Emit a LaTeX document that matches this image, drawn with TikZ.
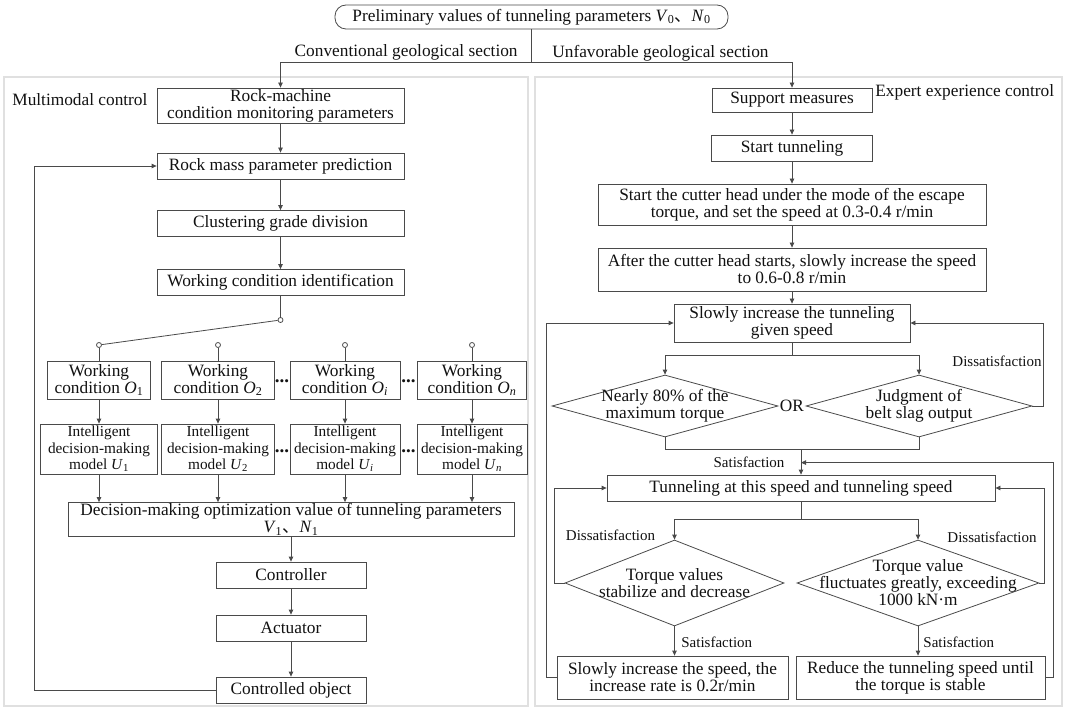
\documentclass[tikz,border=0pt]{standalone}
\usepackage{fontspec}
\setmainfont{Liberation Serif}
\newfontfamily\cjk{Noto Sans CJK SC}
\usetikzlibrary{arrows.meta, positioning, shapes.geometric, calc}
\definecolor{cline}{HTML}{4A4A4A}
\definecolor{cpanel}{HTML}{E0E0E0}
\definecolor{ctext}{HTML}{111111}
\newcommand{\vn}[2]{\textit{#1}\textsubscript{#2}}
\newcommand{\dun}{{\cjk 、}}
\tikzset{
  every picture/.style={line width=0.8pt, font=\fontsize{17.3}{17}\selectfont, text=ctext},
  box/.style={draw=cline, fill=white, rectangle, align=center, inner sep=0pt},
  smallbox/.style={box, font=\fontsize{15.3}{16.5}\selectfont},
  roundbox/.style={box, rounded corners=11pt},
  decide/.style={diamond, draw=cline, fill=white, inner sep=0pt},
  dtext/.style={align=center, inner sep=0pt},
  contact/.style={circle, draw=cline, fill=white, minimum size=5pt, inner sep=0pt},
  conn/.style={draw=cline},
  arrow/.style={conn, -{Triangle[length=5pt, width=4.5pt]}},
  lbl/.style={inner sep=0pt},
  dots/.style={inner sep=0pt, font=\fontsize{19}{19}\selectfont\bfseries},
  cond/.style={inner sep=0pt, font=\fontsize{15}{16}\selectfont},
  panel/.style={draw=cpanel, line width=1.5pt},
}

\begin{document}
\begin{tikzpicture}[x=1pt, y=-1pt]
  \useasboundingbox (0,0) rectangle (1065,708);
  % panels
  \draw[panel] (4,77) rectangle (528,706);
  \draw[panel] (535,77) rectangle (1062,706);
  \node[lbl, anchor=west] (mmc) at (12,100) {Multimodal control};
  \node[lbl, anchor=west] (eec) at (875,92) {Expert experience control};
  % start
  \node[roundbox, minimum width=393, minimum height=24] (pre) at (531.5,17) {Preliminary values of tunneling parameters \vn{V}{0}\dun\vn{N}{0}};
  \node[lbl, anchor=east] (conv) at (518,52) {Conventional geological section};
  \node[lbl, anchor=west] (unf) at (552,53) {Unfavorable geological section};
  % multimodal control
  \node[box, minimum width=247, minimum height=35] (rm) at (280.5,105.5) {Rock-machine\\condition monitoring parameters};
  \node[box, minimum width=247, minimum height=26] (rmp) at (280.5,166) {Rock mass parameter prediction};
  \node[box, minimum width=247, minimum height=26] (cgd) at (280.5,223.5) {Clustering grade division};
  \node[box, minimum width=247, minimum height=26] (wci) at (280.5,282.5) {Working condition identification};
  \draw[arrow] (rm) -- (rmp);
  \draw[arrow] (rmp) -- (cgd);
  \draw[arrow] (cgd) -- (wci);
  \node[contact] (c0) at (280.5,320) {};
  \draw[conn] (wci) -- (c0);
  \node[box, minimum width=446, minimum height=34] (dec) at (291,519.5) {Decision-making optimization value of tunneling parameters\\\vn{V}{1}\dun\vn{N}{1}};
  \foreach \i/\x/\s/\wa/\wb in {1/99/1/103/117, 2/218/2/113/113, 3/345/\textit{i}/110/110, 4/472/\textit{n}/109/110} {
    \node[contact] (c\i) at (\x,345) {};
    \node[box, minimum width=\wa, minimum height=38] (wc\i) at (\x,380) {Working\\condition \vn{O}{\s}};
    \node[smallbox, minimum width=\wb, minimum height=50] (idm\i) at (\x,449) {Intelligent\\decision-making\\model \vn{U}{\s}};
    \draw[conn] (c\i) -- (wc\i);
    \draw[arrow] (wc\i) -- (idm\i);
    \draw[arrow] (idm\i) -- (idm\i |- dec.north);
  }
  \draw[conn] (c0) -- (c1);
  \foreach \i/\x/\y in {1/282/381, 2/408.5/381, 3/282/451, 4/408.5/451}
    \node[dots] (dots\i) at (\x,\y) {...};
  \node[box, minimum width=150, minimum height=26] (ctl) at (291,575) {Controller};
  \node[box, minimum width=150, minimum height=26] (act) at (291,628) {Actuator};
  \node[box, minimum width=150, minimum height=26] (obj) at (291,690) {Controlled object};
  \draw[arrow] (dec) -- (ctl);
  \draw[arrow] (ctl) -- (act);
  \draw[arrow] (act) -- (obj);
  \draw[arrow] (obj.west) -- ++(-181,0) |- (rmp.west);
  % expert experience control
  \node[box, minimum width=160, minimum height=24] (sup) at (792,100) {Support measures};
  \node[box, minimum width=161, minimum height=26] (stt) at (792,148) {Start tunneling};
  \node[box, minimum width=388, minimum height=41] (cut) at (792,204.5) {Start the cutter head under the mode of the escape\\torque, and set the speed at 0.3-0.4 r/min};
  \node[box, minimum width=388, minimum height=43] (aft) at (792,269.5) {After the cutter head starts, slowly increase the speed\\to 0.6-0.8 r/min};
  \node[box, minimum width=236, minimum height=38] (slw) at (792,323) {Slowly increase the tunneling\\given speed};
  \draw[arrow] (sup) -- (stt);
  \draw[arrow] (stt) -- (cut);
  \draw[arrow] (cut) -- (aft);
  \draw[arrow] (aft) -- (slw);
  \draw[conn] (pre.south) -- ++(0,33) coordinate (sp);
  \draw[arrow] (sp) -| (rm.north);
  \draw[arrow] (sp) -| (sup.north);
  % first judgment
  \node[decide, minimum width=226, minimum height=62] (dA) at (665,406) {};
  \node[dtext] (dAt) at (dA) {Nearly 80\% of the\\maximum torque};
  \node[decide, minimum width=226, minimum height=62] (dB) at (919,406) {};
  \node[dtext] (dBt) at (dB) {Judgment of\\belt slag output};
  \node[lbl] (or) at (792,406) {OR};
  \draw[conn] (slw.south) -- ++(0,13) coordinate (s1);
  \draw[arrow] (s1) -| (dA.north);
  \draw[arrow] (s1) -| (dB.north);
  \draw[arrow] (dB.east) -- ++(11,0) |- (slw.east);
  \node[cond] (dis1) at (997,361) {Dissatisfaction};
  \node[box, minimum width=388, minimum height=26] (tun) at (801,488) {Tunneling at this speed and tunneling speed};
  \draw[conn] (dA.south) -- ++(0,12) coordinate (mA) -| (dB.south);
  \draw[arrow] (mA -| tun.north) -- (tun.north);
  \node[cond] (sat1) at (749,462) {Satisfaction};
  % second judgment
  \node[decide, minimum width=219, minimum height=86] (dC) at (674.5,583) {};
  \node[dtext] (dCt) at (dC) {Torque values\\stabilize and decrease};
  \node[decide, minimum width=242, minimum height=86] (dD) at (918,583) {};
  \node[dtext] (dDt) at (dD) {Torque value\\fluctuates greatly, exceeding\\1000 kN·m};
  \draw[conn] (tun.south) -- ++(0,18) coordinate (s2);
  \draw[arrow] (s2) -| (dC.north);
  \draw[arrow] (s2) -| (dD.north);
  \draw[arrow] (dC.west) -- ++(-10,0) |- (tun.west);
  \draw[arrow] (dD.east) -- ++(5,0) |- (tun.east);
  \node[cond] (dis2) at (610.5,535) {Dissatisfaction};
  \node[cond] (dis3) at (992,537) {Dissatisfaction};
  \node[box, minimum width=231, minimum height=43] (bl) at (672.5,677.5) {Slowly increase the speed, the\\increase rate is 0.2r/min};
  \node[box, minimum width=249, minimum height=43] (br) at (920.5,677.5) {Reduce the tunneling speed until\\the torque is stable};
  \draw[arrow] (dC.south) -- (dC.south |- bl.north);
  \draw[arrow] (dD.south) -- (dD.south |- br.north);
  \node[cond, anchor=west] (sat2) at (681,642) {Satisfaction};
  \node[cond, anchor=west] (sat3) at (923,642) {Satisfaction};
  \coordinate (jn) at ($(tun.north)+(0,-12)$);
  \draw[arrow] (bl.west) -- ++(-10,0) |- (slw.west);
  \draw[arrow] (br.east) -- ++(8,0) |- (jn);
\end{tikzpicture}
\end{document}
